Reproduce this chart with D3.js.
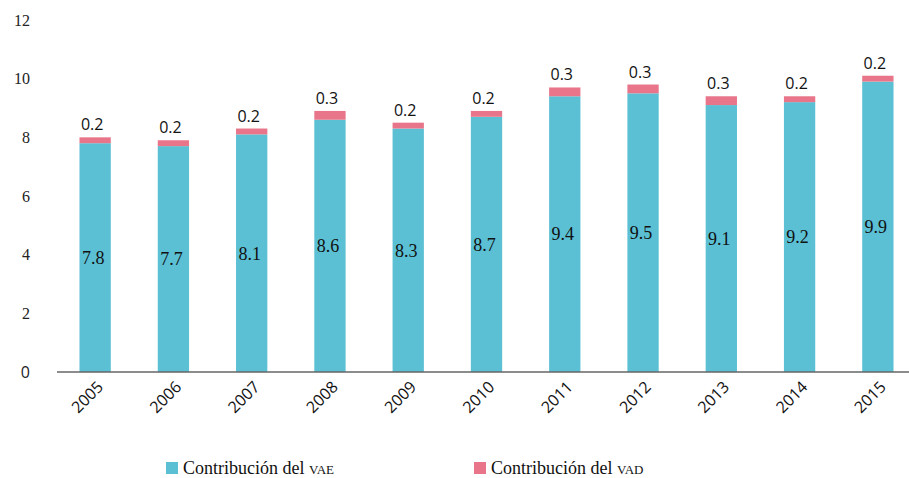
<!DOCTYPE html>
<html><head><meta charset="utf-8">
<script src="https://cdn.jsdelivr.net/npm/d3@7"></script>
<style>body{margin:0;background:#fff}</style>
</head><body>
<svg id="c" width="909" height="478"></svg>
<script>
const years = ["2005","2006","2007","2008","2009","2010","2011","2012","2013","2014","2015"];
const vae = [7.8,7.7,8.1,8.6,8.3,8.7,9.4,9.5,9.1,9.2,9.9];
const vad = [0.2,0.2,0.2,0.3,0.2,0.2,0.3,0.3,0.3,0.2,0.2];
const yTicks = [0,2,4,6,8,10,12];
const seriesPrefix = ["Contribución del ","Contribución del "];
const seriesAbbr = ["vae","vad"];
const colors = ["#5bc0d4","#e8758a"];

const svg = d3.select("#c");
const x = d3.scaleBand().domain(years).range([56,917]).paddingInner(0.6).paddingOuter(0.3);
const y = d3.scaleLinear().domain([0,12]).range([372,20]);
const serif = '"Liberation Serif", "Times New Roman", serif';
const sans = '"Open Sans", "Noto Sans", sans-serif';

// y tick labels
svg.append("g").selectAll("text").data(yTicks).join("text")
  .attr("x",30).attr("y",d=>y(d)).attr("dy","0.35em").attr("text-anchor","end")
  .style("font-family",d=>d===0?sans:serif).style("font-size","16px").attr("fill","#222")
  .text(d=>d);

// bars
const data = years.map((yr,i)=>({yr,a:vae[i],b:vad[i]}));
const g = svg.append("g");
g.selectAll("rect.a").data(data).join("rect")
  .attr("x",d=>x(d.yr)).attr("width",x.bandwidth())
  .attr("y",d=>y(d.a)).attr("height",d=>y(0)-y(d.a)).attr("fill",colors[0]);
g.selectAll("rect.b").data(data).join("rect")
  .attr("x",d=>x(d.yr)).attr("width",x.bandwidth())
  .attr("y",d=>y(d.a+d.b)).attr("height",d=>y(d.a)-y(d.a+d.b)).attr("fill",colors[1]);

// inner labels
g.selectAll("text.in").data(data).join("text")
  .attr("x",d=>x(d.yr)+x.bandwidth()/2-2).attr("y",d=>y(d.a/2)).attr("dy","0.35em")
  .attr("text-anchor","middle").style("font-family",serif).style("font-size","18px").attr("fill","#111")
  .text(d=>d.a.toFixed(1));
// top labels
g.selectAll("text.top").data(data).join("text")
  .attr("x",d=>x(d.yr)+x.bandwidth()/2-3).attr("y",d=>y(d.a+d.b)-7)
  .attr("text-anchor","middle").style("font-family",sans).style("font-size","16px").attr("fill","#111")
  .text(d=>d.b.toFixed(1));

// baseline
svg.append("line").attr("x1",57).attr("x2",909).attr("y1",y(0)).attr("y2",y(0))
  .attr("stroke","#666").attr("stroke-width",1.5);

// x labels
svg.append("g").selectAll("text").data(years).join("text")
  .attr("transform",d=>`translate(${x(d)+x.bandwidth()/2+9},${y(0)+16}) rotate(-45)`)
  .attr("text-anchor","end").style("font-family",sans).style("font-size","16px").attr("fill","#111")
  .text(d=>d);

// legend
const lx = [166,474];
const lg = svg.append("g");
seriesPrefix.forEach((n,i)=>{
  lg.append("rect").attr("x",lx[i]).attr("y",462).attr("width",12).attr("height",12).attr("fill",colors[i]);
  const t = lg.append("text").attr("x",lx[i]+17).attr("y",474).style("font-family",serif).style("font-size","18px")
    .attr("fill","#111");
  t.append("tspan").text(n);
  t.append("tspan").style("font-variant","small-caps").text(seriesAbbr[i]);
});
</script>
</body></html>
